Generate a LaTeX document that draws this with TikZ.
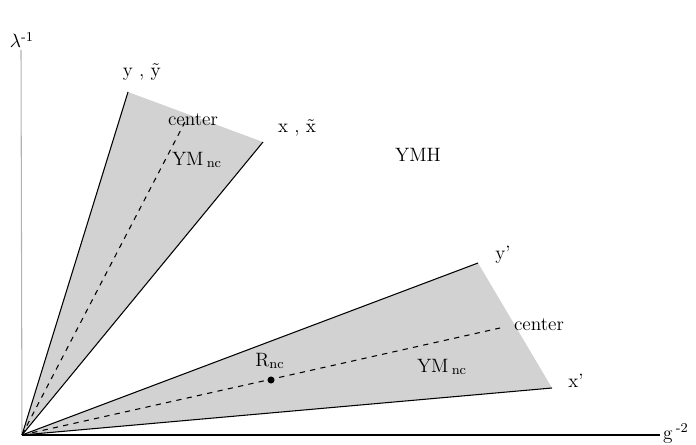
\documentclass[tikz,border=0pt]{standalone}
\usepackage{tikz}
\usetikzlibrary{positioning}
\begin{document}
\begin{tikzpicture}[x=0.02cm, y=-0.02cm, font=\fontsize{11}{13}\selectfont,
  wedge/.style={fill=gray!35, draw=none}, edge/.style={black, semithick}, mid/.style={black, semithick, dashed},
  lbl/.style={inner sep=1pt}, axis/.style={semithick}]
\useasboundingbox (0,0) rectangle (696,445);
\coordinate (o) at (22,435);
\coordinate (y1) at (128,92);
\coordinate (x1) at (263,142);
\coordinate (m1) at (185,122);
\coordinate (y2) at (478,263);
\coordinate (x2) at (552,388);
\coordinate (m2) at (500,328);
\coordinate (vtop) at (21,50);
\coordinate (hend) at (660,435);
% cones
\fill[wedge] (o) -- (y1) -- (x1) -- cycle;
\fill[wedge] (o) -- (y2) -- (x2) -- cycle;
\draw[axis, gray!60] (o) -- (vtop);
\draw[axis] (o) -- (hend);
\draw[edge] (o) -- (y1); \draw[edge] (o) -- (x1);
\draw[edge] (o) -- (y2); \draw[edge] (o) -- (x2);
\draw[mid] (o) -- (m1); \draw[mid] (o) -- (m2);
\node[circle, fill=black, inner sep=0pt, minimum size=4pt] (r) at (271,380) {};
% labels
\node[lbl] (l0) at (22,40) {$\lambda$\textsuperscript{-1}};
\node[lbl] (l1) at (676,433) {g\,\textsuperscript{-2}};
\node[lbl] (l2) at (142,72) {y , $\tilde{\mathrm{y}}$};
\node[lbl] (l3) at (193,120) {center};
\node[lbl] (l4) at (297,128) {x , $\tilde{\mathrm{x}}$};
\node[lbl] (l5) at (418,155) {YMH};
\node[lbl] (l6) at (197,160) {YM\,\textsubscript{nc}};
\node[lbl] (l7) at (503,255) {y'};
\node[lbl] (l8) at (539,325) {center};
\node[lbl] (l9) at (270,361) {R\textsubscript{nc}};
\node[lbl] (l10) at (442,367) {YM\,\textsubscript{nc}};
\node[lbl] (l11) at (576,381) {x'};
\end{tikzpicture}
\end{document}
